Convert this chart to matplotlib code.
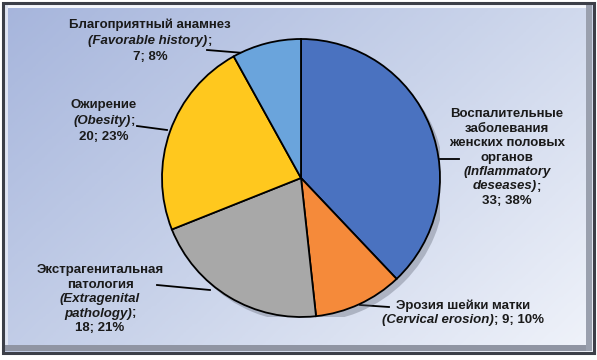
import numpy as np
import matplotlib.pyplot as plt
from matplotlib.patches import Rectangle, Wedge
from matplotlib.colors import LinearSegmentedColormap

plt.rcParams['font.family'] = ['Liberation Sans', 'DejaVu Sans']

# data: clockwise from 12 o'clock
names = ['Воспалительные заболевания', 'Эрозия шейки матки', 'Экстрагенитальная патология',
         'Ожирение', 'Благоприятный анамнез']
counts = [33, 9, 18, 20, 7]
pcts = [38, 10, 21, 23, 8]
colors = ['#4a72c0', '#f58a3a', '#a8a8a8', '#ffc81e', '#6aa4dc']

W, H = 597, 360
fig = plt.figure(figsize=(W / 100, H / 100), dpi=100)

# background with gradient and bevelled frame (pixel coords, y down)
bg = fig.add_axes([0, 0, 1, 1])
bg.set_xlim(0, W)
bg.set_ylim(H, 0)
bg.axis('off')
cmap = LinearSegmentedColormap.from_list('bg', ['#a6b5dc', '#c9d3ea', '#f0f3fa'])
gx, gy = np.meshgrid(np.linspace(0, 1, 200), np.linspace(0, 1, 120))
bg.imshow(gx * 0.6 + gy * 0.4, cmap=cmap, extent=[3, 594, 353, 3], aspect='auto', zorder=0)
bg.add_patch(Rectangle((3, 3), 591, 350, fill=False, ec='#3c3f48', lw=2.2, zorder=3))
bg.add_patch(Rectangle((5, 5), 587, 3, fc='#f4f6fb', ec='none', zorder=2))
bg.add_patch(Rectangle((5, 5), 3, 346, fc='#dfe4f2', ec='none', zorder=2))
bg.add_patch(Rectangle((5, 345), 587, 6, fc='#9095a3', ec='none', zorder=2))
bg.add_patch(Rectangle((586, 5), 6, 346, fc='#9aa0ae', ec='none', zorder=2))

# pie (center and radius in pixels)
cx, cy, r = 301, 178, 139
ax = fig.add_axes([(cx - r) / W, 1 - (cy + r) / H, 2 * r / W, 2 * r / H])
ax.set_xlim(-1, 1)
ax.set_ylim(-1, 1)
ax.axis('off')
ax.add_patch(Wedge((0.035, -0.04), 1.0, 0, 360, fc='#5a5f6e', alpha=0.35, ec='none', zorder=0))
wedges, _ = ax.pie(counts, colors=colors, startangle=90, counterclock=False, radius=1,
                   wedgeprops=dict(edgecolor='black', linewidth=1.3))
ax.set_xlim(-1, 1)
ax.set_ylim(-1, 1)
ax.set_aspect('auto')

renderer = fig.canvas.get_renderer()


def draw_line(xc, y, parts, size=9.5):
    # parts: list of (text, italic); draws the line centered on xc
    objs = []
    for txt, it in parts:
        t = bg.text(0, y, txt, fontsize=size, fontweight='bold',
                    style='italic' if it else 'normal', color='#1a1a1a',
                    ha='left', va='center', zorder=5)
        objs.append(t)
    widths = []
    for t in objs:
        bb = t.get_window_extent(renderer)
        widths.append(bb.width)
    x = xc - sum(widths) / 2
    for t, w in zip(objs, widths):
        t.set_x(x)
        x += w


def label(xc, y0, dy, lines):
    for i, ln in enumerate(lines):
        draw_line(xc, y0 + i * dy, ln)


label(150, 25, 16, [[('Благоприятный анамнез', False)],
                    [('(Favorable history)', True), (';', False)],
                    [('7; 8%', False)]])
label(104, 105, 16, [[('Ожирение', False)],
                     [('(Obesity)', True), (';', False)],
                     [('20; 23%', False)]])
label(507, 114, 14.5, [[('Воспалительные', False)],
                       [('заболевания', False)],
                       [('женских половых', False)],
                       [('органов', False)],
                       [('(Inflammatory', True)],
                       [('deseases)', True), (';', False)],
                       [('33; 38%', False)]])
label(463, 306, 14, [[('Эрозия шейки матки', False)],
                     [('(Cervical erosion)', True), ('; 9; 10%', False)]])
label(100, 270, 14.5, [[('Экстрагенитальная', False)],
                       [('патология', False)],
                       [('(Extragenital', True)],
                       [('pathology)', True), (';', False)],
                       [('18; 21%', False)]])

# leader lines
for x1, y1, x2, y2 in [(207, 50, 244, 53), (137, 126, 167, 130), (437, 159, 459, 159),
                       (360, 305, 389, 307), (157, 285, 210, 290)]:
    bg.plot([x1, x2], [y1, y2], color='black', lw=1.3, zorder=4)

fig.savefig('out.png', dpi=100)
